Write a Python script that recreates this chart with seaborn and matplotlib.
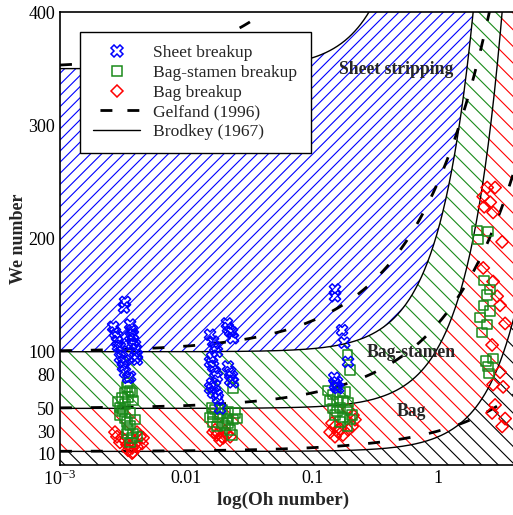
import numpy as np
import matplotlib
matplotlib.use("Agg")
import matplotlib.pyplot as plt
import seaborn as sns
from matplotlib.lines import Line2D
from matplotlib.ticker import FixedLocator, LogLocator, NullFormatter

# ---------------- data ----------------
# critical-We baselines of the regime boundaries (low-Oh limits)
baselines = [12, 50, 100, 350]
# correlation constants named in the legend
brodkey_a, brodkey_n = 1.077, 1.6    # Brodkey (1967)
gelfand_a, gelfand_n = 1.5, 0.74     # Gelfand (1996)

sheet_oh = [0.00328, 0.00322, 0.00264, 0.00273, 0.00288, 0.00283, 0.00299, 0.00311, 0.00299, 0.00316,
            0.00316, 0.00328, 0.00347, 0.00360, 0.00360, 0.00373, 0.00379, 0.00379, 0.00394, 0.00401,
            0.00408, 0.00408, 0.00373, 0.00360, 0.00288, 0.00328, 0.00394,
            0.0211, 0.0215, 0.0232, 0.0236, 0.0224, 0.0155, 0.0164, 0.0170, 0.0176, 0.0161,
            0.0155, 0.0170, 0.0176, 0.0161, 0.0155, 0.0164, 0.0176, 0.0179, 0.0186, 0.0215,
            0.0224, 0.0232, 0.0236, 0.0224, 0.0164, 0.0170,
            0.152, 0.152, 0.173, 0.180, 0.193, 0.150, 0.158, 0.152, 0.161, 0.155]
sheet_we = [144, 139, 122, 117, 113, 109, 104, 100, 95, 91,
            87, 82, 77, 78, 124, 119, 115, 110, 106, 102,
            97, 93, 107, 114, 105, 92, 95,
            125, 121, 117, 112, 118, 115, 109, 104, 100, 95,
            91, 82, 78, 72, 68, 64, 62, 59, 50, 87,
            82, 78, 73, 75, 87, 70,
            155, 149, 119, 108, 91, 77, 73, 71, 68, 69]

stamen_oh = [0.00347, 0.00340, 0.00360, 0.00328, 0.00311, 0.00288, 0.00299, 0.00316, 0.00299, 0.00328,
             0.00340, 0.00360, 0.00347, 0.00379, 0.00373, 0.00360, 0.00408, 0.00340, 0.00373, 0.00379,
             0.00347, 0.00328, 0.00360, 0.00394, 0.00311,
             0.0236, 0.0161, 0.0170, 0.0193, 0.0215, 0.0245, 0.0155, 0.0179, 0.0211, 0.0236,
             0.0164, 0.0193, 0.0254, 0.0232, 0.0204, 0.0176, 0.0215, 0.0186, 0.0164, 0.0224,
             0.190, 0.200, 0.134, 0.147, 0.167, 0.183, 0.139, 0.158, 0.176, 0.193,
             0.147, 0.167, 0.190, 0.152, 0.176, 0.208, 0.190, 0.200, 0.167, 0.158,
             2.04, 2.49, 2.08, 2.32, 2.59, 2.45, 2.28, 2.59, 2.15, 2.45, 2.23, 2.40, 2.73, 2.49, 2.54]
stamen_we = [73, 69, 66, 64, 59, 56, 51, 49, 44, 41,
             38, 35, 31, 28, 24, 20, 25, 28, 64, 57,
             60, 54, 46, 40, 47,
             68, 51, 49, 49, 47, 46, 42, 42, 41, 40,
             38, 37, 41, 26.5, 35, 34, 37, 45, 45, 31,
             97, 84, 66, 62, 64, 64.5, 57, 56, 57, 55,
             50, 51, 49, 44, 42, 44, 34, 40, 38, 47,
             207, 206, 199, 163, 155, 150, 141, 136, 130, 124, 117, 92, 94, 87, 81]

bag_oh = [0.00283, 0.00273, 0.00299, 0.00340, 0.00373, 0.00379, 0.00408, 0.00448, 0.00431, 0.00394,
          0.00347, 0.00373, 0.00456, 0.00408, 0.00328, 0.00360, 0.00311,
          0.0170, 0.0179, 0.0193, 0.0176, 0.0186, 0.0197, 0.0211, 0.0164, 0.0224, 0.0204,
          0.193, 0.211, 0.219, 0.144, 0.152, 0.139, 0.161, 0.176, 0.152, 0.193, 0.208, 0.167,
          2.45, 2.83, 2.28, 2.59, 2.32, 2.73, 3.22, 2.28, 2.73, 2.94,
          3.10, 3.40, 2.68, 3.10, 2.73, 3.28, 2.83, 2.68, 3.40, 3.22]
bag_we = [25, 29, 20, 18, 15, 11.5, 16, 19, 25, 19,
          13, 10.5, 24, 29, 22, 17, 24,
          31, 28, 25, 26.5, 22, 24, 27, 29, 25, 30,
          49, 44, 40, 37, 34, 29, 29, 26.5, 25, 31, 34, 32,
          245, 245, 237, 232, 228, 223, 197, 174, 162, 149,
          141, 125, 106, 82, 71, 69, 53, 46, 41, 34]

legend_labels = ["Sheet breakup", "Bag-stamen breakup", "Bag breakup",
                 "Gelfand (1996)", "Brodkey (1967)"]
region_labels = ["Sheet stripping", "Bag-stamen", "Bag"]
region_pos = [(0.464, 349), (0.611, 99), (0.611, 47)]
y_ticks = [10, 30, 50, 80, 100, 200, 300, 400]
y_minor = [125, 150, 175, 225, 250, 275, 325, 350, 375]
x_ticks = [1e-3, 1e-2, 1e-1, 1]
x_ticklabels = ["10$^{-3}$", "0.01", "0.1", "1"]

# ---------------- style ----------------
sns.set_theme(style="white")
plt.rcParams['font.family'] = ['Liberation Serif', 'DejaVu Serif']
plt.rcParams['mathtext.fontset'] = 'custom'
plt.rcParams['mathtext.rm'] = 'Liberation Serif'
plt.rcParams['mathtext.it'] = 'Liberation Serif:italic'
plt.rcParams['hatch.linewidth'] = 0.8
plt.rcParams['axes.linewidth'] = 1.2

BLUE, GREEN, RED = '#0000ff', '#1a8a1a', '#ff0000'

fig = plt.figure(figsize=(5.13, 5.15), dpi=100)
ax = fig.add_axes([60 / 513, 50 / 515, 454 / 513, 453 / 515])

oh_grid = np.logspace(-3, np.log10(4.0), 600)
brod = {w: w * (1 + brodkey_a * oh_grid ** brodkey_n) for w in baselines}
gelf = {w: w * (1 + gelfand_a * oh_grid ** gelfand_n) for w in baselines}

# hatched regime regions
ax.fill_between(oh_grid, 0, brod[12], facecolor='none', edgecolor='black',
                hatch='\\\\', linewidth=0, zorder=1)
ax.fill_between(oh_grid, brod[12], brod[50], facecolor='none', edgecolor=RED,
                hatch='\\\\', linewidth=0, zorder=1)
ax.fill_between(oh_grid, brod[50], brod[100], facecolor='none', edgecolor=GREEN,
                hatch='\\\\', linewidth=0, zorder=1)
ax.fill_between(oh_grid, brod[100], brod[350], facecolor='none', edgecolor=BLUE,
                hatch='///', linewidth=0, zorder=1)

dash_style = (0, (4.3, 6.8))
for w in baselines:
    sns.lineplot(x=oh_grid, y=brod[w], color='black', linewidth=1.0, ax=ax,
                 sort=False, estimator=None, zorder=3)
    sns.lineplot(x=oh_grid, y=gelf[w], color='black', linewidth=2.0, ax=ax,
                 sort=False, estimator=None, linestyle=dash_style, zorder=3)

sns.scatterplot(x=bag_oh, y=bag_we, marker='D', s=40, facecolors='none',
                edgecolor=RED, linewidth=1.1, ax=ax, zorder=5)
sns.scatterplot(x=stamen_oh, y=stamen_we, marker='s', s=46, facecolors='none',
                edgecolor=GREEN, linewidth=1.1, ax=ax, zorder=5)
sns.scatterplot(x=sheet_oh, y=sheet_we, marker='X', s=65, facecolors='none',
                edgecolor=BLUE, linewidth=1.1, ax=ax, zorder=6)

for txt, (xx, yy) in zip(region_labels, region_pos):
    ax.text(xx, yy, txt, ha='center', va='center', fontsize=12.7,
            fontweight='bold', zorder=7)

ax.set_xscale('log')
ax.set_xlim(1e-3, 4.0)
ax.set_ylim(0, 400)
ax.set_xticks(x_ticks)
ax.set_xticklabels(x_ticklabels)
ax.xaxis.set_minor_locator(LogLocator(base=10, subs=np.arange(2, 10)))
ax.xaxis.set_minor_formatter(NullFormatter())
ax.set_yticks(y_ticks)
ax.yaxis.set_minor_locator(FixedLocator(y_minor))
ax.tick_params(which='both', direction='in', top=False, right=False,
               colors='black', labelsize=13, width=1.0)
ax.tick_params(which='major', length=7)
ax.tick_params(which='minor', length=4)
ax.spines['right'].set_visible(False)
for sp in ['left', 'top', 'bottom']:
    ax.spines[sp].set_color('black')

ax.set_xlabel("log(Oh number)", fontsize=13.8, fontweight='bold')
ax.set_ylabel("We number", fontsize=13, fontweight='bold')
ax.xaxis.set_label_coords(0.492, -0.060)
ax.yaxis.set_label_coords(-0.072, 0.5)

handles = [
    Line2D([], [], linestyle='none', marker='X', markersize=8, markerfacecolor='none',
           markeredgecolor=BLUE, markeredgewidth=1.1),
    Line2D([], [], linestyle='none', marker='s', markersize=7, markerfacecolor='none',
           markeredgecolor=GREEN, markeredgewidth=1.1),
    Line2D([], [], linestyle='none', marker='D', markersize=6.5, markerfacecolor='none',
           markeredgecolor=RED, markeredgewidth=1.1),
    Line2D([], [], color='black', linewidth=2.0, linestyle=(7.2, (4.3, 5.4))),
    Line2D([], [], color='black', linewidth=1.0),
]
leg = ax.legend(handles, legend_labels, loc='upper left',
                bbox_to_anchor=(0.044, 0.956), borderaxespad=0,
                fontsize=12.6, frameon=True, fancybox=False, framealpha=1,
                edgecolor='black', handlelength=2.7, handletextpad=0.75,
                labelspacing=0.2, borderpad=0.75)
leg.get_frame().set_linewidth(1.0)
leg.set_zorder(10)

fig.savefig("out.png", dpi=100)
